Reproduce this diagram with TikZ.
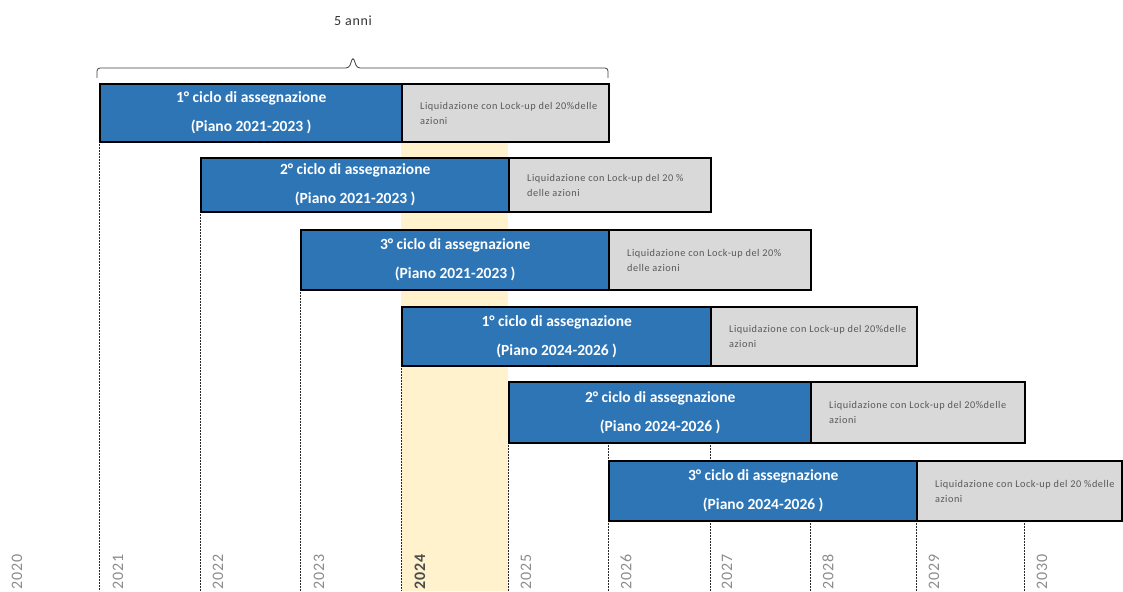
\documentclass[tikz,border=0pt]{standalone}
\usepackage{fontspec}
\setmainfont{Carlito}
\newfontfamily\spacedfont[LetterSpace=5]{Carlito}
\newfontfamily\yearfont[LetterSpace=6]{Carlito}
\definecolor{cblue}{HTML}{2E75B6}
\definecolor{cgray}{HTML}{D9D9D9}
\definecolor{cyellow}{HTML}{FFF2CC}
\definecolor{ctxt}{HTML}{595959}
\definecolor{cyear}{HTML}{8C8C8C}
\tikzset{
  bluebox/.style={draw=black, line width=2.4pt, fill=cblue, inner sep=0pt, anchor=north west,
    text=white, align=center, font=\fontsize{15.5}{29}\selectfont\bfseries},
  graybox/.style={draw=black, line width=2.4pt, fill=cgray, inner sep=0pt, anchor=north west},
  graytext/.style={anchor=west, align=left, inner sep=0pt, text=ctxt, font=\spacedfont\fontsize{10.3}{15}\selectfont},
  dashline/.style={draw=black!85, line width=0.7pt, dash pattern=on 2pt off 1pt},
  yearlabel/.style={rotate=90, anchor=west, inner sep=0pt, text=cyear, font=\yearfont\fontsize{16}{16}\selectfont},
  bracket/.style={draw=black!75, line width=0.8pt, rounded corners=3pt}
}
\begin{document}
\begin{tikzpicture}[x=1pt,y=-1pt]
\useasboundingbox (0,0) rectangle (1123,591);
% highlighted year column
\fill[cyellow] (401,141) rectangle (508,591);
% dashed year lines
\coordinate (l21t) at (99,141);  \coordinate (l21b) at (99,591);
\coordinate (l22t) at (200,211); \coordinate (l22b) at (200,591);
\coordinate (l23t) at (300,289); \coordinate (l23b) at (300,591);
\coordinate (l24t) at (401,365); \coordinate (l24b) at (401,591);
\coordinate (l25t) at (508,442); \coordinate (l25b) at (508,591);
\coordinate (l26t) at (608,442); \coordinate (l26b) at (608,591);
\coordinate (l27t) at (710,442); \coordinate (l27b) at (710,591);
\coordinate (l28t) at (810,520); \coordinate (l28b) at (810,591);
\coordinate (l29t) at (916,520); \coordinate (l29b) at (916,591);
\coordinate (l30t) at (1024,520); \coordinate (l30b) at (1024,591);
\foreach \n in {21,22,23,24,25,26,27,28,29,30}{\draw[dashline] (l\n t) -- (l\n b);}
% year labels
\node[yearlabel] (y20) at (17,590) {2020};
\node[yearlabel] (y21) at (118,590) {2021};
\node[yearlabel] (y22) at (218,590) {2022};
\node[yearlabel] (y23) at (319,590) {2023};
\node[yearlabel, text=black!70, font=\yearfont\fontsize{16}{16}\selectfont\bfseries] (y24) at (420,590) {2024};
\node[yearlabel] (y25) at (526,590) {2025};
\node[yearlabel] (y26) at (626,590) {2026};
\node[yearlabel] (y27) at (727,590) {2027};
\node[yearlabel] (y28) at (828,590) {2028};
\node[yearlabel] (y29) at (934,590) {2029};
\node[yearlabel] (y30) at (1042,590) {2030};
% bracket
\node[text=black!80, font=\spacedfont\fontsize{14}{14}\selectfont] (five) at (353,21) {5 anni};
\coordinate (brL) at (97,78);
\coordinate (brR) at (608,78);
\coordinate (brT) at (353,57);
\draw[bracket] (brL) -- (97,68) -- (349,68) -- (brT) -- (357,68) -- (608,68) -- (brR);
% rows
\node[bluebox, minimum width=302pt, minimum height=58pt] (b1) at (99,83) {1° ciclo di assegnazione\\(Piano 2021-2023 )};
\node[graybox, minimum width=207pt, minimum height=58pt] (g1) at (401,83) {};
\node[graytext] (t1) at ([xshift=19pt]g1.west) {Liquidazione con Lock-up del 20\%delle\\azioni};

\node[bluebox, minimum width=308pt, minimum height=54pt] (b2) at (200,157) {2° ciclo di assegnazione\\(Piano 2021-2023 )};
\node[graybox, minimum width=202pt, minimum height=54pt] (g2) at (508,157) {};
\node[graytext] (t2) at ([xshift=19pt]g2.west) {Liquidazione con Lock-up del 20 \%\\delle azioni};

\node[bluebox, minimum width=308pt, minimum height=60pt] (b3) at (300,229) {3° ciclo di assegnazione\\(Piano 2021-2023 )};
\node[graybox, minimum width=202pt, minimum height=60pt] (g3) at (608,229) {};
\node[graytext] (t3) at ([xshift=19pt]g3.west) {Liquidazione con Lock-up del 20\%\\delle azioni};

\node[bluebox, minimum width=309pt, minimum height=59pt] (b4) at (401,306) {1° ciclo di assegnazione\\(Piano 2024-2026 )};
\node[graybox, minimum width=206pt, minimum height=59pt] (g4) at (710,306) {};
\node[graytext] (t4) at ([xshift=19pt]g4.west) {Liquidazione con Lock-up del 20\%delle\\azioni};

\node[bluebox, minimum width=302pt, minimum height=61pt] (b5) at (508,381) {2° ciclo di assegnazione\\(Piano 2024-2026 )};
\node[graybox, minimum width=214pt, minimum height=61pt] (g5) at (810,381) {};
\node[graytext] (t5) at ([xshift=19pt]g5.west) {Liquidazione con Lock-up del 20\%delle\\azioni};

\node[bluebox, minimum width=308pt, minimum height=60pt] (b6) at (608,460) {3° ciclo di assegnazione\\(Piano 2024-2026 )};
\node[graybox, minimum width=205pt, minimum height=60pt] (g6) at (916,460) {};
\node[graytext] (t6) at ([xshift=19pt]g6.west) {Liquidazione con Lock-up del 20 \%delle\\azioni};
\end{tikzpicture}
\end{document}
